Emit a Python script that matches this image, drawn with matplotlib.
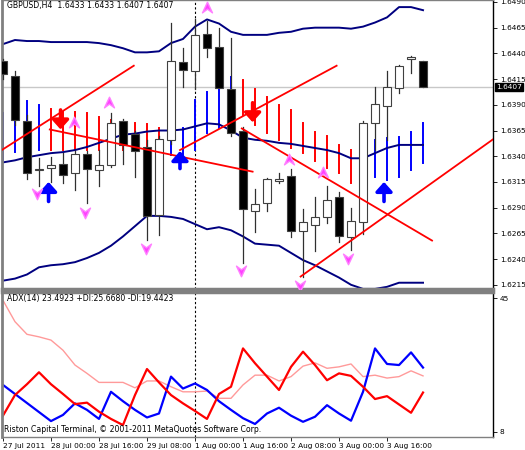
import matplotlib
matplotlib.use("Agg")
import matplotlib.pyplot as plt
from matplotlib.path import Path
import numpy as np

opens  = [1.6433,1.6418,1.6374,1.6327,1.6329,1.6332,1.6324,1.6342,1.6327,1.6331,1.6374,1.6362,1.6349,1.6283,1.6356,1.6432,1.6423,1.6459,1.6446,1.6405,1.6365,1.6287,1.6295,1.6316,1.6321,1.6267,1.6273,1.6281,1.6300,1.6261,1.6276,1.6372,1.6389,1.6406,1.6435,1.6433]
highs  = [1.6435,1.6423,1.6380,1.6338,1.6339,1.6343,1.6345,1.6345,1.6346,1.6382,1.6376,1.6365,1.6356,1.6360,1.6470,1.6445,1.6473,1.6471,1.6465,1.6455,1.6368,1.6308,1.6319,1.6324,1.6328,1.6289,1.6300,1.6311,1.6305,1.6290,1.6374,1.6407,1.6423,1.6429,1.6437,1.6433]
lows   = [1.6415,1.6370,1.6318,1.6311,1.6315,1.6314,1.6307,1.6295,1.6311,1.6330,1.6332,1.6320,1.6259,1.6263,1.6352,1.6407,1.6405,1.6436,1.6406,1.6360,1.6236,1.6266,1.6287,1.6314,1.6261,1.6223,1.6248,1.6275,1.6257,1.6249,1.6264,1.6346,1.6356,1.6401,1.6421,1.6407]
closes = [1.6420,1.6375,1.6324,1.6328,1.6331,1.6322,1.6342,1.6328,1.6331,1.6372,1.6351,1.6345,1.6282,1.6357,1.6433,1.6424,1.6458,1.6445,1.6406,1.6363,1.6289,1.6294,1.6318,1.6318,1.6267,1.6276,1.6281,1.6297,1.6262,1.6277,1.6372,1.6391,1.6407,1.6428,1.6436,1.6407]

bb_upper = [1.6449,1.6453,1.6452,1.6452,1.6451,1.6451,1.6451,1.6451,1.6450,1.6448,1.6445,1.6441,1.6441,1.6442,1.6450,1.6454,1.6466,1.6473,1.6469,1.6461,1.6458,1.6458,1.6458,1.6460,1.6461,1.6464,1.6465,1.6465,1.6465,1.6464,1.6466,1.6470,1.6475,1.6485,1.6485,1.6482]
bb_mid   = [1.6334,1.6336,1.6339,1.6341,1.6343,1.6344,1.6346,1.6349,1.6353,1.6357,1.6361,1.6362,1.6364,1.6365,1.6365,1.6366,1.6369,1.6372,1.6371,1.6365,1.6358,1.6356,1.6355,1.6353,1.6352,1.6350,1.6348,1.6346,1.6343,1.6338,1.6338,1.6343,1.6348,1.6351,1.6351,1.6351]
bb_lower = [1.6219,1.6221,1.6225,1.6232,1.6234,1.6235,1.6237,1.6241,1.6246,1.6253,1.6262,1.6272,1.6282,1.6282,1.6281,1.6279,1.6274,1.6269,1.6271,1.6268,1.6262,1.6255,1.6254,1.6253,1.6246,1.6239,1.6234,1.6228,1.6222,1.6215,1.6211,1.6211,1.6213,1.6217,1.6217,1.6217]

sig_color  = ['b','b','b','b','r','r','r','r','r','r','r','r','r','r','b','b','b','b','b','b','r','r','r','r','r','r','r','r','r','r','r','b','b','b','b','b']
sig_top    = [1.6382,1.6394,1.6394,1.6390,1.6386,1.6383,1.6383,1.6382,1.6378,1.6375,1.6372,1.6372,1.6371,1.6367,1.6378,1.6367,1.6395,1.6402,1.6411,1.6417,1.6414,1.6405,1.6398,1.6390,1.6385,1.6372,1.6364,1.6360,1.6351,1.6346,1.6346,1.6356,1.6358,1.6359,1.6364,1.6372]
sig_bottom = [1.6336,1.6344,1.6346,1.6346,1.6346,1.6346,1.6346,1.6346,1.6346,1.6346,1.6346,1.6346,1.6346,1.6346,1.6341,1.6341,1.6346,1.6363,1.6367,1.6363,1.6380,1.6370,1.6363,1.6356,1.6348,1.6343,1.6335,1.6329,1.6324,1.6314,1.6314,1.6320,1.6317,1.6320,1.6327,1.6333]

trend_lines = [((-0.1,1.6346),(10.9,1.6428)),((3.9,1.6366),(20.8,1.6325)),((14.75,1.6346),(27.8,1.6428)),((19.9,1.6367),(35.75,1.6258)),((24.8,1.6223),(40.9,1.6357))]
down_arrows = [(4.8,1.6385,1.6366),(20.8,1.6392,1.6373)]
up_arrows = [(3.8,1.6296,1.6315),(14.75,1.6328,1.6345),(31.75,1.6296,1.6315)]
fr_up_x = [17,8.8,5.9,23.8,26.7]; fr_up_y = [1.6484,1.6392,1.6372,1.6336,1.6324]
fr_dn_x = [2.8,6.8,11.9,19.8,24.75,28.75]; fr_dn_y = [1.6304,1.6286,1.6251,1.6229,1.6215,1.6241]

plus_di  = [12.5,18.2,21.2,24.5,21.2,18.5,15.7,16.1,13.6,11.6,9.9,18.2,25.4,21.7,18.2,15.9,13.8,11.6,18.5,20.5,31.1,27.0,23.3,19.6,26.0,30.2,26.5,22.3,24.2,23.5,20.5,17.1,17.9,15.6,13.3,18.9]
minus_di = [21.0,18.5,16.0,13.5,11.0,12.7,15.9,14.1,11.6,19.1,16.5,14.1,12.0,13.1,23.3,20.0,21.4,19.6,16.5,14.1,11.8,10.2,13.1,14.7,12.5,10.8,12.2,15.4,13.1,11.1,19.1,31.1,26.8,26.5,30.0,25.8]
adx      = [44.4,38.5,35.0,34.3,33.4,30.6,26.5,24.2,21.7,21.7,21.7,20.2,22.1,22.1,20.5,19.1,19.1,19.3,17.3,17.3,21.0,23.7,23.7,22.1,23.3,26.2,27.1,25.6,26.0,26.8,23.3,23.7,22.9,23.3,24.9,23.5]

price_ticks = [1.6490,1.6465,1.6440,1.6415,1.6390,1.6365,1.6340,1.6315,1.6290,1.6265,1.6240,1.6215]
date_pos = [0,4,8,12,16,20,24,28,32]
date_labels = ["27 Jul 2011","28 Jul 00:00","28 Jul 16:00","29 Jul 08:00","1 Aug 00:00","1 Aug 16:00","2 Aug 08:00","3 Aug 00:00","3 Aug 16:00"]
last_price = 1.6407
title = "GBPUSD,H4  1.6433 1.6433 1.6407 1.6407"
adx_title = "ADX(14) 23.4923 +DI:25.6680 -DI:19.4423"
copyright = "Riston Capital Terminal, © 2001-2011 MetaQuotes Software Corp."

FS = 5.3
fig = plt.figure(figsize=(5.25,4.5), dpi=100)
W, H = 525, 450
ax = fig.add_axes([2/W, (H-289)/H, 491/W, 289/H])
ax2 = fig.add_axes([2/W, 13/H, 491/W, 145/H])
xlim = (-0.08, 40.83)
colmap = {'b':'#0000ff','r':'#ff0000'}
navy = '#000080'
ax.set_xlim(*xlim); ax.set_ylim(1.62109, 1.64919)
ax.axhline(last_price, color='#c8c8c8', lw=1, zorder=0)
ax.axvline(16, color='black', lw=0.8, ls=(0,(2,2)), zorder=0.5)
for i in range(36):
    ax.plot([i,i],[sig_bottom[i],sig_top[i]], color=colmap[sig_color[i]], lw=1.4, zorder=1)
x = np.arange(36)
for band in (bb_upper, bb_mid, bb_lower):
    ax.plot(x, band, color=navy, lw=1.4, zorder=2)
for i in range(36):
    o,h,l,c = opens[i],highs[i],lows[i],closes[i]
    ax.plot([i,i],[l,h], color='#303030', lw=0.9, zorder=3)
    lo, hi = min(o,c), max(o,c)
    if hi-lo < 0.00008:
        ax.plot([i-0.3,i+0.3],[o,o], color='black', lw=1.3, zorder=4)
        continue
    fc = 'black' if c < o else 'white'
    ax.add_patch(plt.Rectangle((i-0.3, lo), 0.6, hi-lo, facecolor=fc, edgecolor='#404040', lw=0.8, zorder=4))
for (a,b) in trend_lines:
    ax.plot([a[0],b[0]],[a[1],b[1]], color='#ff0000', lw=1.3, zorder=5)
aprops = dict(arrowstyle='-|>,head_width=0.45,head_length=0.5', lw=2.6, mutation_scale=11, shrinkA=0, shrinkB=0)
for (xa,t,h) in down_arrows:
    ax.annotate('', xy=(xa,h), xytext=(xa,t), arrowprops=dict(color='#ff0000', **aprops), zorder=6)
for (xa,t,h) in up_arrows:
    ax.annotate('', xy=(xa,h), xytext=(xa,t), arrowprops=dict(color='#0000ff', **aprops), zorder=6)
chev_up = Path([(0,1),(0.8,-0.7),(0,-0.1),(-0.8,-0.7),(0,1)],[1,2,2,2,79])
chev_dn = Path([(0,-1),(0.8,0.7),(0,0.1),(-0.8,0.7),(0,-1)],[1,2,2,2,79])
ax.plot(fr_up_x, fr_up_y, ls='none', marker=chev_up, ms=9, color='#ff40ff', mec='#ff80ff', zorder=6)
ax.plot(fr_dn_x, fr_dn_y, ls='none', marker=chev_dn, ms=9, color='#ff40ff', mec='#ff80ff', zorder=6)
ax.yaxis.tick_right()
ax.set_yticks(price_ticks)
ax.set_yticklabels([f"{p:.4f}" for p in price_ticks], fontsize=FS)
ax.tick_params(axis='y', length=3, pad=2, width=0.6)
ax.set_xticks([])
ax.text(0.01, 0.995, title, transform=ax.transAxes, fontsize=FS+0.3, va='top', ha='left')
ax.text(1.006, last_price, f"{last_price:.4f}", transform=ax.get_yaxis_transform(), fontsize=FS, va='center', ha='left', color='white', bbox=dict(boxstyle='square,pad=0.15', fc='black', ec='black'), zorder=10)

ax2.set_xlim(*xlim); ax2.set_ylim(6.6, 46.7)
ax2.axvline(16, color='black', lw=0.8, ls=(0,(2,2)))
ax2.plot(x, adx, color='#ff9a9a', lw=1.0)
ax2.plot(x, minus_di, color='#0000ff', lw=1.6)
ax2.plot(x, plus_di, color='#ff0000', lw=1.6)
ax2.yaxis.tick_right()
ax2.set_yticks([45, 8]); ax2.set_yticklabels(['45','8'], fontsize=FS)
ax2.tick_params(axis='y', length=3, pad=2, width=0.6)
ax2.set_xticks(date_pos)
ax2.set_xticklabels(date_labels, fontsize=FS, ha='left')
ax2.tick_params(axis='x', length=3, pad=1, width=0.6)
ax2.text(0.01, 0.985, adx_title, transform=ax2.transAxes, fontsize=FS+0.3, va='top', ha='left')
ax2.text(0.005, 0.02, copyright, transform=ax2.transAxes, fontsize=FS+0.3, va='bottom', ha='left')
for a in (ax, ax2):
    for s in a.spines.values():
        s.set_color('#808080'); s.set_linewidth(1.0)
    a.spines['left'].set_linewidth(2)
    a.spines['right'].set_color('black')
ax.spines['bottom'].set_linewidth(2.5)
ax2.spines['top'].set_linewidth(2.5)
fig.savefig('out.png', dpi=100)
